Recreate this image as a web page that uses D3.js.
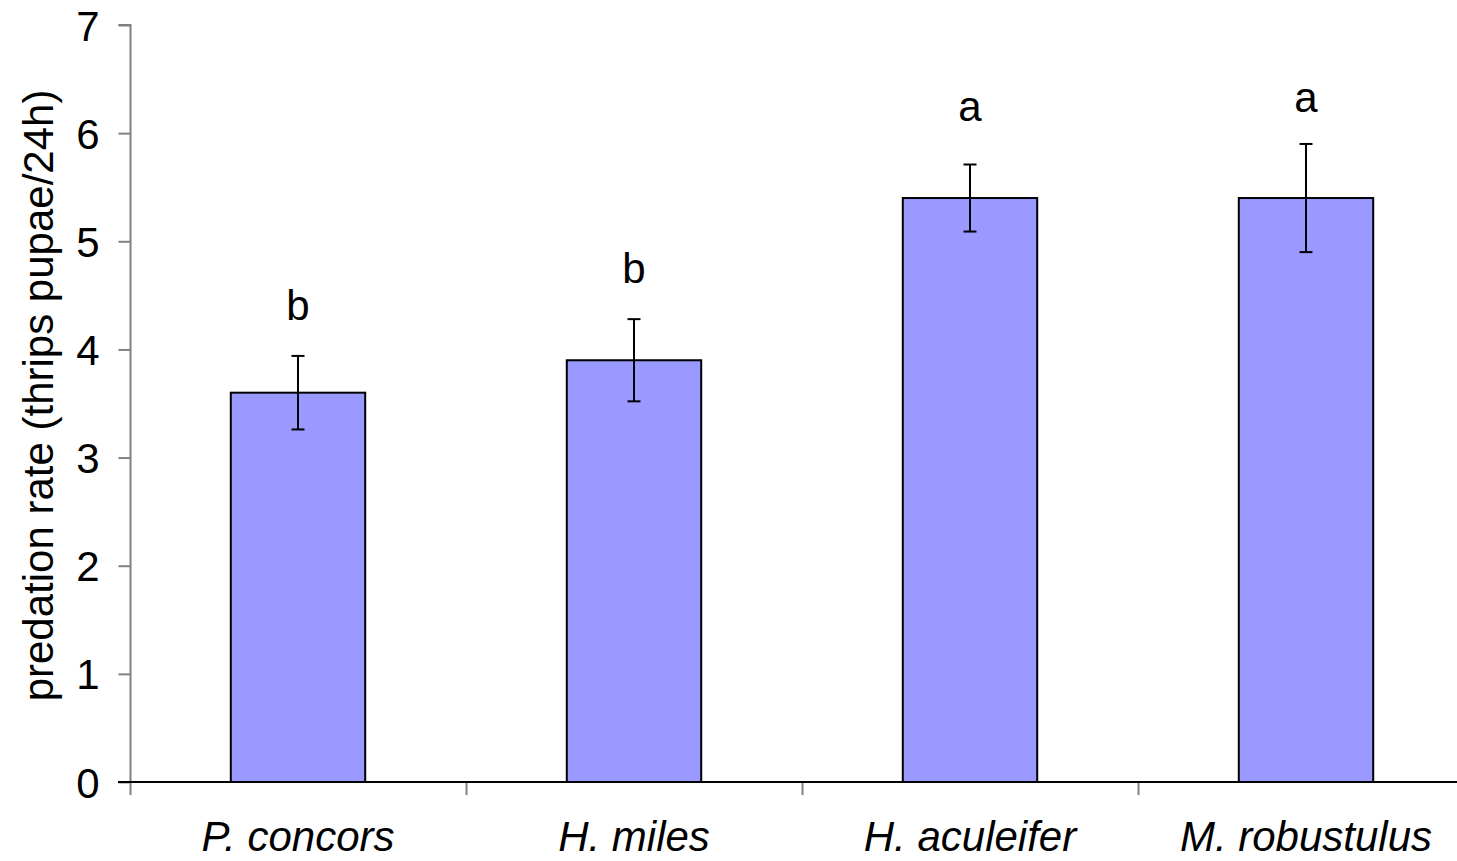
<!DOCTYPE html>
<html>
<head>
<meta charset="utf-8">
<script src="https://cdn.jsdelivr.net/npm/d3@7/dist/d3.min.js"></script>
<style>
  html, body { margin: 0; padding: 0; background: #fff; }
  svg { display: block; font-family: "Liberation Sans", Arial, sans-serif; }
</style>
</head>
<body>
<svg id="chart" width="1457" height="861"></svg>
<script>
// Predator species and their mean predation rate with standard error
const species = ["P. concors", "H. miles", "H. aculeifer", "M. robustulus"];
const meanRate = [3.6, 3.9, 5.4, 5.4];
const stdError = [0.34, 0.38, 0.31, 0.5];
// Significance letters and the height (in rate units) of their baselines
const groupLetters = ["b", "b", "a", "a"];
const letterY = [4.27, 4.61, 6.11, 6.2];
const yTicks = [0, 1, 2, 3, 4, 5, 6, 7];

const svg = d3.select("#chart");
const plotLeft = 130, plotRight = 1474, plotTop = 25, plotBottom = 782;
const fontSize = 42;

const x = d3.scaleBand().domain(species).range([plotLeft, plotRight])
  .paddingInner(0.6).paddingOuter(0.3);
const y = d3.scaleLinear().domain([0, 7]).range([plotBottom, plotTop]);
const step = x.step();

// Bars
svg.append("g").selectAll("rect").data(species).join("rect")
  .attr("x", d => x(d))
  .attr("y", (d, i) => y(meanRate[i]))
  .attr("width", x.bandwidth())
  .attr("height", (d, i) => y(0) - y(meanRate[i]))
  .attr("fill", "#9999ff")
  .attr("stroke", "#000")
  .attr("stroke-width", 2);

// Error bars
const eb = svg.append("g").attr("stroke", "#000").attr("stroke-width", 2);
species.forEach((s, i) => {
  const cx = x(s) + x.bandwidth() / 2;
  const hi = y(meanRate[i] + stdError[i]);
  const lo = y(meanRate[i] - stdError[i]);
  eb.append("line").attr("x1", cx).attr("x2", cx).attr("y1", hi).attr("y2", lo);
  eb.append("line").attr("x1", cx - 6.5).attr("x2", cx + 6.5).attr("y1", hi).attr("y2", hi);
  eb.append("line").attr("x1", cx - 6.5).attr("x2", cx + 6.5).attr("y1", lo).attr("y2", lo);
});

// Significance letters
svg.append("g").selectAll("text").data(species).join("text")
  .attr("x", d => x(d) + x.bandwidth() / 2)
  .attr("y", (d, i) => y(letterY[i]))
  .attr("text-anchor", "middle")
  .attr("font-size", fontSize)
  .text((d, i) => groupLetters[i]);

// Y axis
const yAxis = svg.append("g").attr("transform", `translate(${plotLeft + 0.5},0)`)
  .call(d3.axisLeft(y).tickValues(yTicks).tickSize(12).tickPadding(19).tickFormat(d3.format("d")));
yAxis.select(".domain").attr("stroke", "#808080").attr("stroke-width", 2)
  .attr("d", `M-12,${plotTop}H0V${plotBottom + 13}`);
yAxis.selectAll(".tick line").attr("stroke", "#808080").attr("stroke-width", 2);
yAxis.selectAll(".tick text").attr("font-size", fontSize).attr("fill", "#000")
  .attr("font-family", "Liberation Sans, Arial, sans-serif").attr("dy", "0.36em");

// X axis: boundary ticks between categories
const boundaries = d3.range(species.length + 1).map(i => plotLeft + i * step);
svg.append("g").selectAll("line").data(boundaries.slice(1)).join("line")
  .attr("x1", d => Math.round(d) + 0.5).attr("x2", d => Math.round(d) + 0.5)
  .attr("y1", plotBottom).attr("y2", plotBottom + 13)
  .attr("stroke", "#808080").attr("stroke-width", 2);
svg.append("line")
  .attr("x1", plotLeft - 12).attr("x2", plotRight)
  .attr("y1", plotBottom).attr("y2", plotBottom)
  .attr("stroke", "#000").attr("stroke-width", 2);

// Category labels
svg.append("g").selectAll("text").data(species).join("text")
  .attr("x", d => x(d) + x.bandwidth() / 2)
  .attr("y", 851)
  .attr("text-anchor", "middle")
  .attr("font-size", fontSize)
  .attr("font-style", "italic")
  .text(d => d);

// Y axis title
svg.append("text")
  .attr("transform", `translate(53,${(plotTop + plotBottom) / 2 - 8}) rotate(-90)`)
  .attr("text-anchor", "middle")
  .attr("font-size", fontSize)
  .text("predation rate (thrips pupae/24h)");
</script>
</body>
</html>
